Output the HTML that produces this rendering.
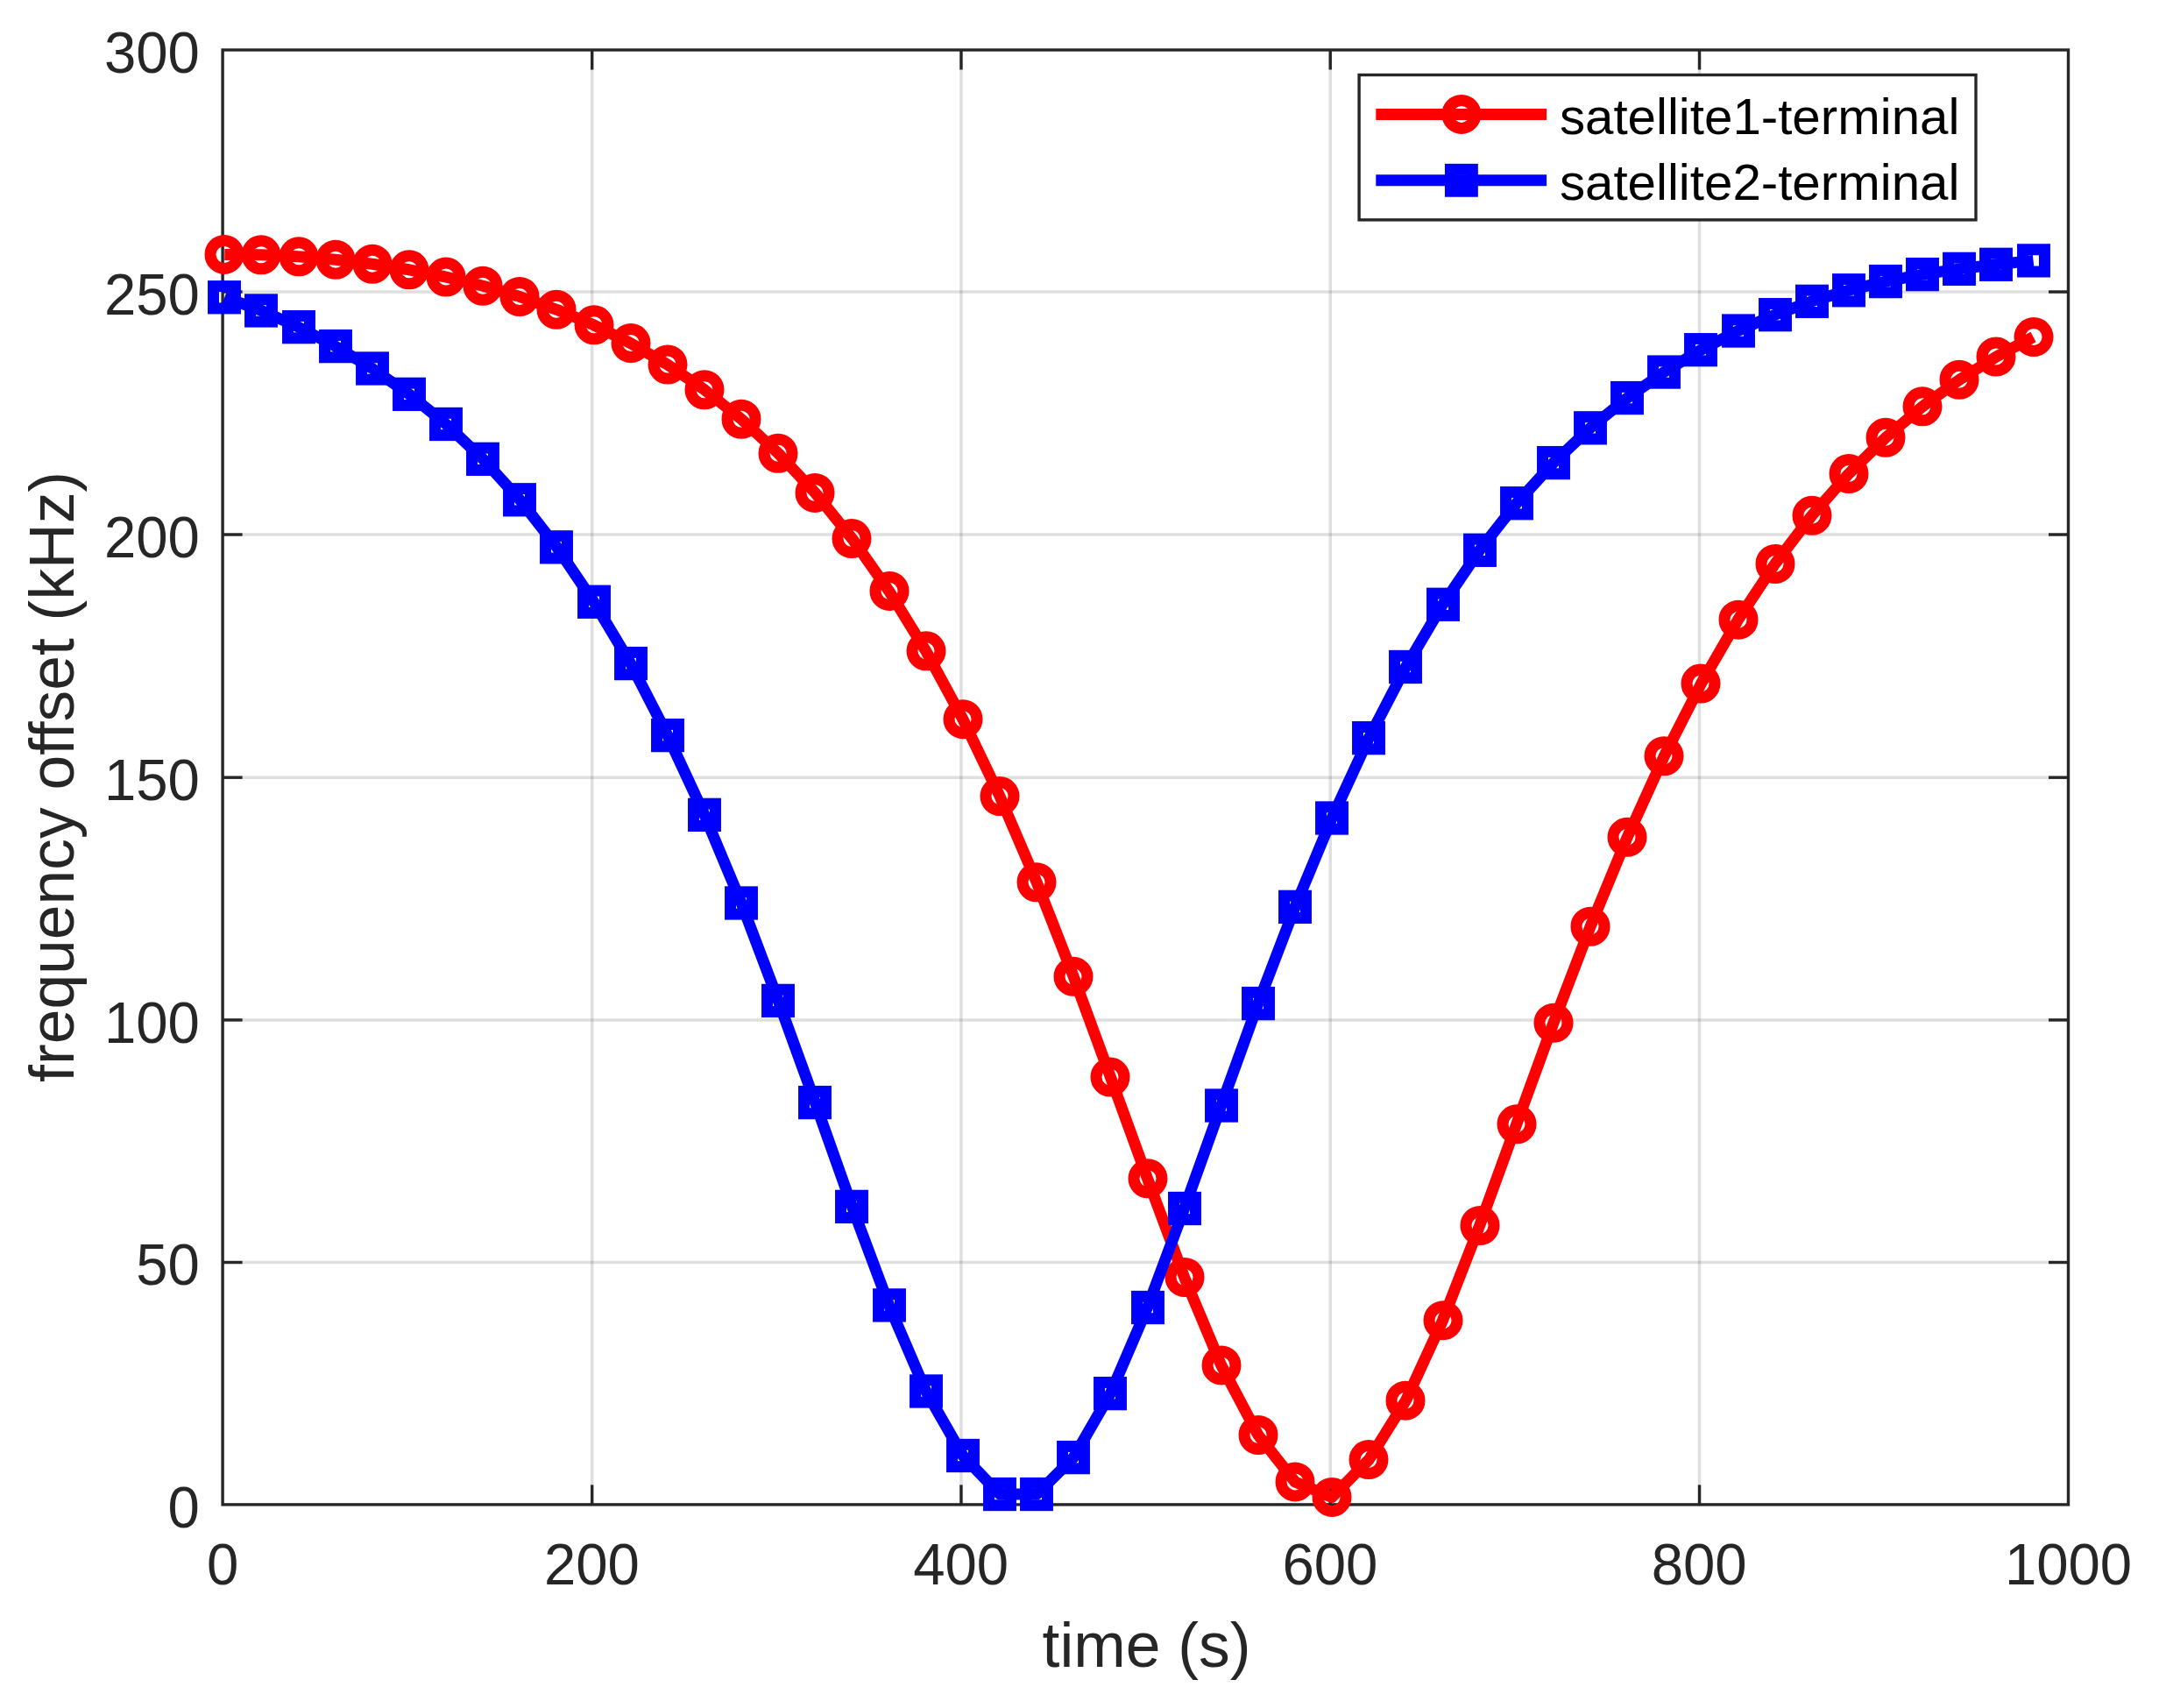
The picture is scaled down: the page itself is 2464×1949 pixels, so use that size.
<!DOCTYPE html>
<html lang="en"><head><meta charset="utf-8"><title>frequency offset vs time</title>
<style>html,body{margin:0;padding:0;background:#fff;}body{width:2464px;height:1949px;overflow:hidden;}svg{display:block;}text{font-family:"Liberation Sans",sans-serif;}</style></head><body>
<svg width="2464" height="1949" viewBox="0 0 2464 1949">
<rect x="0" y="0" width="2464" height="1949" fill="#ffffff"/>
<g stroke="rgb(38,38,38)" stroke-opacity="0.15" stroke-width="3.50" fill="none">
<line x1="675.68" y1="57.00" x2="675.68" y2="1716.90"/>
<line x1="1096.96" y1="57.00" x2="1096.96" y2="1716.90"/>
<line x1="1518.24" y1="57.00" x2="1518.24" y2="1716.90"/>
<line x1="1939.52" y1="57.00" x2="1939.52" y2="1716.90"/>
<line x1="254.10" y1="1440.50" x2="2360.50" y2="1440.50"/>
<line x1="254.10" y1="1163.90" x2="2360.50" y2="1163.90"/>
<line x1="254.10" y1="887.20" x2="2360.50" y2="887.20"/>
<line x1="254.10" y1="610.00" x2="2360.50" y2="610.00"/>
<line x1="254.10" y1="333.05" x2="2360.50" y2="333.05"/>
</g>
<g stroke="#262626" stroke-width="3.40" fill="none">
<line x1="675.68" y1="1716.90" x2="675.68" y2="1694.40"/>
<line x1="675.68" y1="57.00" x2="675.68" y2="79.50"/>
<line x1="1096.96" y1="1716.90" x2="1096.96" y2="1694.40"/>
<line x1="1096.96" y1="57.00" x2="1096.96" y2="79.50"/>
<line x1="1518.24" y1="1716.90" x2="1518.24" y2="1694.40"/>
<line x1="1518.24" y1="57.00" x2="1518.24" y2="79.50"/>
<line x1="1939.52" y1="1716.90" x2="1939.52" y2="1694.40"/>
<line x1="1939.52" y1="57.00" x2="1939.52" y2="79.50"/>
<line x1="254.10" y1="1440.50" x2="276.60" y2="1440.50"/>
<line x1="2360.50" y1="1440.50" x2="2338.00" y2="1440.50"/>
<line x1="254.10" y1="1163.90" x2="276.60" y2="1163.90"/>
<line x1="2360.50" y1="1163.90" x2="2338.00" y2="1163.90"/>
<line x1="254.10" y1="887.20" x2="276.60" y2="887.20"/>
<line x1="2360.50" y1="887.20" x2="2338.00" y2="887.20"/>
<line x1="254.10" y1="610.00" x2="276.60" y2="610.00"/>
<line x1="2360.50" y1="610.00" x2="2338.00" y2="610.00"/>
<line x1="254.10" y1="333.05" x2="276.60" y2="333.05"/>
<line x1="2360.50" y1="333.05" x2="2338.00" y2="333.05"/>
</g>
<rect x="254.10" y="57.00" width="2106.40" height="1659.90" fill="none" stroke="#262626" stroke-width="3.40"/>
<g fill="#262626" font-size="65.30px">
<text transform="translate(254.10,1808.2) scale(1,1.03)" text-anchor="middle">0</text>
<text transform="translate(675.38,1808.2) scale(1,1.03)" text-anchor="middle">200</text>
<text transform="translate(1096.66,1808.2) scale(1,1.03)" text-anchor="middle">400</text>
<text transform="translate(1517.94,1808.2) scale(1,1.03)" text-anchor="middle">600</text>
<text transform="translate(1939.22,1808.2) scale(1,1.03)" text-anchor="middle">800</text>
<text transform="translate(2360.50,1808.2) scale(1,1.03)" text-anchor="middle">1000</text>
<text transform="translate(227.9,1742.50) scale(1,1.03)" text-anchor="end">0</text>
<text transform="translate(227.9,1466.10) scale(1,1.03)" text-anchor="end">50</text>
<text transform="translate(227.9,1189.50) scale(1,1.03)" text-anchor="end">100</text>
<text transform="translate(227.9,912.80) scale(1,1.03)" text-anchor="end">150</text>
<text transform="translate(227.9,635.60) scale(1,1.03)" text-anchor="end">200</text>
<text transform="translate(227.9,358.65) scale(1,1.03)" text-anchor="end">250</text>
<text transform="translate(227.9,82.60) scale(1,1.03)" text-anchor="end">300</text>
</g>
<text x="1308.6" y="1901.6" text-anchor="middle" font-size="71.40px" fill="#262626">time (s)</text>
<text transform="translate(84.1,886.4) rotate(-90)" text-anchor="middle" font-size="71.40px" fill="#262626">frequency offset (kHz)</text>
<g stroke="#ff0000" stroke-width="13.00" fill="none" stroke-linejoin="round">
<polyline points="256.30,290.42 298.43,290.84 340.56,292.81 382.68,296.27 424.81,301.24 466.94,307.79 509.07,316.06 551.20,326.22 593.32,338.52 635.45,353.27 677.58,370.81 719.71,391.57 761.84,416.03 803.96,444.72 846.09,478.24 888.22,517.24 930.35,562.44 972.48,614.58 1014.60,674.45 1056.73,742.86 1098.86,820.65 1140.99,908.54 1183.12,1006.72 1225.24,1114.36 1267.37,1229.04 1309.50,1344.80 1351.63,1457.50 1393.76,1557.90 1435.88,1637.50 1478.01,1690.90 1520.14,1708.40 1562.27,1665.60 1604.40,1598.20 1646.52,1506.70 1688.65,1398.50 1730.78,1282.80 1772.91,1167.23 1815.04,1057.24 1857.16,955.32 1899.29,862.76 1941.42,780.08 1983.55,707.18 2025.68,643.53 2067.80,588.31 2109.93,540.56 2152.06,499.36 2194.19,463.84 2236.32,433.26 2278.44,406.98 2320.57,384.54"/>
<circle cx="256.00" cy="290.42" r="16.00"/>
<circle cx="298.00" cy="290.84" r="16.00"/>
<circle cx="341.00" cy="292.81" r="16.00"/>
<circle cx="383.00" cy="296.27" r="16.00"/>
<circle cx="425.00" cy="301.24" r="16.00"/>
<circle cx="467.00" cy="307.79" r="16.00"/>
<circle cx="509.00" cy="316.06" r="16.00"/>
<circle cx="551.00" cy="326.22" r="16.00"/>
<circle cx="593.00" cy="338.52" r="16.00"/>
<circle cx="635.00" cy="353.27" r="16.00"/>
<circle cx="678.00" cy="370.81" r="16.00"/>
<circle cx="720.00" cy="391.57" r="16.00"/>
<circle cx="762.00" cy="416.03" r="16.00"/>
<circle cx="804.00" cy="444.72" r="16.00"/>
<circle cx="846.00" cy="478.24" r="16.00"/>
<circle cx="888.00" cy="517.24" r="16.00"/>
<circle cx="930.00" cy="562.44" r="16.00"/>
<circle cx="972.00" cy="614.58" r="16.00"/>
<circle cx="1015.00" cy="674.45" r="16.00"/>
<circle cx="1057.00" cy="742.86" r="16.00"/>
<circle cx="1099.00" cy="820.65" r="16.00"/>
<circle cx="1141.00" cy="908.54" r="16.00"/>
<circle cx="1183.00" cy="1006.72" r="16.00"/>
<circle cx="1225.00" cy="1114.36" r="16.00"/>
<circle cx="1267.00" cy="1229.04" r="16.00"/>
<circle cx="1310.00" cy="1344.80" r="16.00"/>
<circle cx="1352.00" cy="1457.50" r="16.00"/>
<circle cx="1394.00" cy="1557.90" r="16.00"/>
<circle cx="1436.00" cy="1637.50" r="16.00"/>
<circle cx="1478.00" cy="1690.90" r="16.00"/>
<circle cx="1520.00" cy="1708.40" r="16.00"/>
<circle cx="1562.00" cy="1665.60" r="16.00"/>
<circle cx="1604.00" cy="1598.20" r="16.00"/>
<circle cx="1647.00" cy="1506.70" r="16.00"/>
<circle cx="1689.00" cy="1398.50" r="16.00"/>
<circle cx="1731.00" cy="1282.80" r="16.00"/>
<circle cx="1773.00" cy="1167.23" r="16.00"/>
<circle cx="1815.00" cy="1057.24" r="16.00"/>
<circle cx="1857.00" cy="955.32" r="16.00"/>
<circle cx="1899.00" cy="862.76" r="16.00"/>
<circle cx="1941.00" cy="780.08" r="16.00"/>
<circle cx="1984.00" cy="707.18" r="16.00"/>
<circle cx="2026.00" cy="643.53" r="16.00"/>
<circle cx="2068.00" cy="588.31" r="16.00"/>
<circle cx="2110.00" cy="540.56" r="16.00"/>
<circle cx="2152.00" cy="499.36" r="16.00"/>
<circle cx="2194.00" cy="463.84" r="16.00"/>
<circle cx="2236.00" cy="433.26" r="16.00"/>
<circle cx="2278.00" cy="406.98" r="16.00"/>
<circle cx="2321.00" cy="384.54" r="16.00"/>
</g>
<g stroke="#0000ff" stroke-width="13.00" fill="none">
<polyline points="256.30,339.26 298.43,354.45 340.56,373.16 382.68,395.11 424.81,420.49 466.94,449.84 509.07,483.97 551.20,523.80 593.32,570.29 635.45,624.35 677.58,686.76 719.71,757.10 761.84,839.10 803.96,929.83 846.09,1030.48 888.22,1141.90 930.35,1258.08 972.48,1376.90 1014.60,1489.40 1056.73,1587.50 1098.86,1661.00 1140.99,1705.05 1183.12,1705.05 1225.24,1663.10 1267.37,1590.10 1309.50,1492.00 1351.63,1379.00 1393.76,1261.52 1435.88,1145.07 1478.01,1034.85 1520.14,933.49 1562.27,842.14 1604.40,761.01 1646.52,689.78 1688.65,627.82 1730.78,574.25 1772.91,528.09 1815.04,488.33 1857.16,454.07 1899.29,424.55 1941.42,399.19 1983.55,377.52 2025.68,359.18 2067.80,343.85 2109.93,331.27 2152.06,321.13 2194.19,313.13 2236.32,306.86 2278.44,301.82 2320.57,297.38" stroke-linejoin="round"/>
<rect x="243.55" y="326.61" width="24.90" height="25.30"/>
<rect x="285.55" y="341.80" width="24.90" height="25.30"/>
<rect x="328.55" y="360.51" width="24.90" height="25.30"/>
<rect x="370.55" y="382.46" width="24.90" height="25.30"/>
<rect x="412.55" y="407.84" width="24.90" height="25.30"/>
<rect x="454.55" y="437.19" width="24.90" height="25.30"/>
<rect x="496.55" y="471.32" width="24.90" height="25.30"/>
<rect x="538.55" y="511.15" width="24.90" height="25.30"/>
<rect x="580.55" y="557.64" width="24.90" height="25.30"/>
<rect x="622.55" y="611.70" width="24.90" height="25.30"/>
<rect x="665.55" y="674.11" width="24.90" height="25.30"/>
<rect x="707.55" y="744.45" width="24.90" height="25.30"/>
<rect x="749.55" y="826.45" width="24.90" height="25.30"/>
<rect x="791.55" y="917.18" width="24.90" height="25.30"/>
<rect x="833.55" y="1017.83" width="24.90" height="25.30"/>
<rect x="875.55" y="1129.25" width="24.90" height="25.30"/>
<rect x="917.55" y="1245.43" width="24.90" height="25.30"/>
<rect x="959.55" y="1364.25" width="24.90" height="25.30"/>
<rect x="1002.55" y="1476.75" width="24.90" height="25.30"/>
<rect x="1044.55" y="1574.85" width="24.90" height="25.30"/>
<rect x="1086.55" y="1648.35" width="24.90" height="25.30"/>
<rect x="1128.55" y="1692.40" width="24.90" height="25.30"/>
<rect x="1170.55" y="1692.40" width="24.90" height="25.30"/>
<rect x="1212.55" y="1650.45" width="24.90" height="25.30"/>
<rect x="1254.55" y="1577.45" width="24.90" height="25.30"/>
<rect x="1297.55" y="1479.35" width="24.90" height="25.30"/>
<rect x="1339.55" y="1366.35" width="24.90" height="25.30"/>
<rect x="1381.55" y="1248.87" width="24.90" height="25.30"/>
<rect x="1423.55" y="1132.42" width="24.90" height="25.30"/>
<rect x="1465.55" y="1022.20" width="24.90" height="25.30"/>
<rect x="1507.55" y="920.84" width="24.90" height="25.30"/>
<rect x="1549.55" y="829.49" width="24.90" height="25.30"/>
<rect x="1591.55" y="748.36" width="24.90" height="25.30"/>
<rect x="1634.55" y="677.13" width="24.90" height="25.30"/>
<rect x="1676.55" y="615.17" width="24.90" height="25.30"/>
<rect x="1718.55" y="561.60" width="24.90" height="25.30"/>
<rect x="1760.55" y="515.44" width="24.90" height="25.30"/>
<rect x="1802.55" y="475.68" width="24.90" height="25.30"/>
<rect x="1844.55" y="441.42" width="24.90" height="25.30"/>
<rect x="1886.55" y="411.90" width="24.90" height="25.30"/>
<rect x="1928.55" y="386.54" width="24.90" height="25.30"/>
<rect x="1971.55" y="364.87" width="24.90" height="25.30"/>
<rect x="2013.55" y="346.53" width="24.90" height="25.30"/>
<rect x="2055.55" y="331.20" width="24.90" height="25.30"/>
<rect x="2097.55" y="318.62" width="24.90" height="25.30"/>
<rect x="2139.55" y="308.48" width="24.90" height="25.30"/>
<rect x="2181.55" y="300.48" width="24.90" height="25.30"/>
<rect x="2223.55" y="294.21" width="24.90" height="25.30"/>
<rect x="2265.55" y="289.17" width="24.90" height="25.30"/>
<rect x="2308.55" y="284.73" width="24.90" height="25.30"/>
</g>
<rect x="1551.10" y="85.50" width="703.90" height="165.40" fill="#ffffff" stroke="#262626" stroke-width="3.40"/>
<g stroke="#ff0000" stroke-width="13.00" fill="none"><line x1="1570.30" y1="130.40" x2="1765.10" y2="130.40"/><circle cx="1667.90" cy="130.40" r="16.00"/></g>
<g stroke="#0000ff" stroke-width="13.00" fill="none"><line x1="1570.30" y1="205.80" x2="1765.10" y2="205.80"/><rect x="1655.45" y="193.35" width="24.90" height="24.90"/></g>
<g fill="#000000" font-size="58.25px"><text x="1779.9" y="153.0">satellite1-terminal</text><text x="1779.9" y="228.4">satellite2-terminal</text></g>
</svg></body></html>
